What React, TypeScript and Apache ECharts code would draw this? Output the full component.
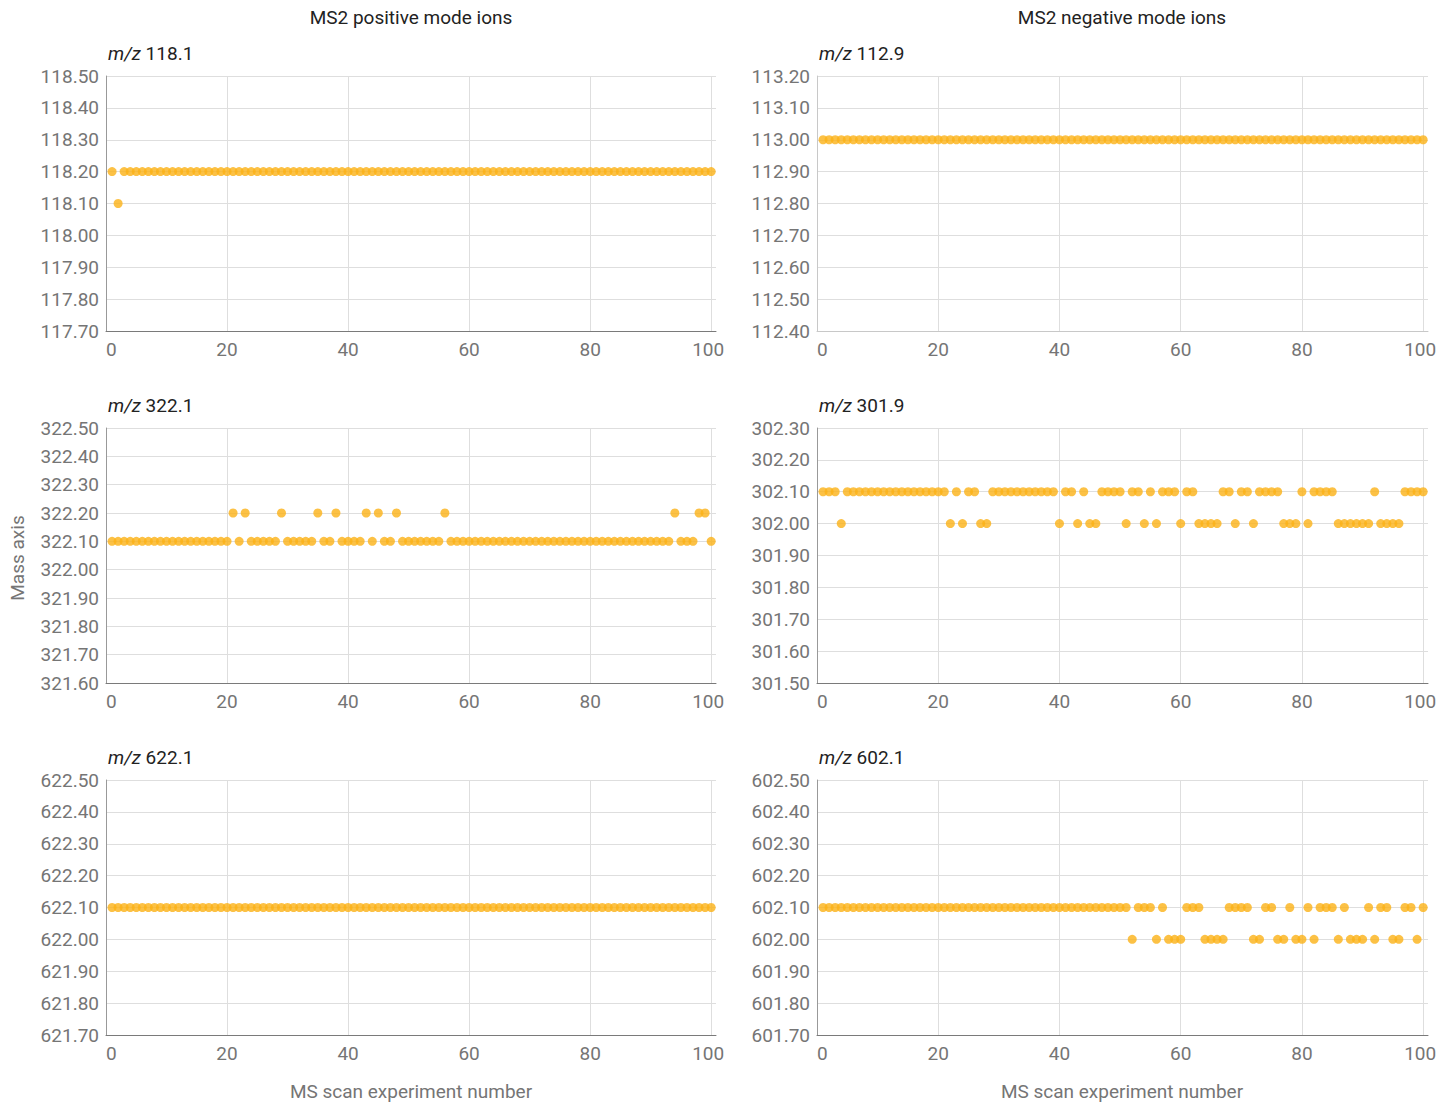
import { useEffect, useRef } from "react";
import * as echarts from "echarts";

// Measured m/z per scan (scans 1..100)
const posIon118 = [
  118.2, 118.1, 118.2, 118.2, 118.2, 118.2, 118.2, 118.2, 118.2, 118.2,
  118.2, 118.2, 118.2, 118.2, 118.2, 118.2, 118.2, 118.2, 118.2, 118.2,
  118.2, 118.2, 118.2, 118.2, 118.2, 118.2, 118.2, 118.2, 118.2, 118.2,
  118.2, 118.2, 118.2, 118.2, 118.2, 118.2, 118.2, 118.2, 118.2, 118.2,
  118.2, 118.2, 118.2, 118.2, 118.2, 118.2, 118.2, 118.2, 118.2, 118.2,
  118.2, 118.2, 118.2, 118.2, 118.2, 118.2, 118.2, 118.2, 118.2, 118.2,
  118.2, 118.2, 118.2, 118.2, 118.2, 118.2, 118.2, 118.2, 118.2, 118.2,
  118.2, 118.2, 118.2, 118.2, 118.2, 118.2, 118.2, 118.2, 118.2, 118.2,
  118.2, 118.2, 118.2, 118.2, 118.2, 118.2, 118.2, 118.2, 118.2, 118.2,
  118.2, 118.2, 118.2, 118.2, 118.2, 118.2, 118.2, 118.2, 118.2, 118.2,
];

const negIon113 = [
  113.0, 113.0, 113.0, 113.0, 113.0, 113.0, 113.0, 113.0, 113.0, 113.0,
  113.0, 113.0, 113.0, 113.0, 113.0, 113.0, 113.0, 113.0, 113.0, 113.0,
  113.0, 113.0, 113.0, 113.0, 113.0, 113.0, 113.0, 113.0, 113.0, 113.0,
  113.0, 113.0, 113.0, 113.0, 113.0, 113.0, 113.0, 113.0, 113.0, 113.0,
  113.0, 113.0, 113.0, 113.0, 113.0, 113.0, 113.0, 113.0, 113.0, 113.0,
  113.0, 113.0, 113.0, 113.0, 113.0, 113.0, 113.0, 113.0, 113.0, 113.0,
  113.0, 113.0, 113.0, 113.0, 113.0, 113.0, 113.0, 113.0, 113.0, 113.0,
  113.0, 113.0, 113.0, 113.0, 113.0, 113.0, 113.0, 113.0, 113.0, 113.0,
  113.0, 113.0, 113.0, 113.0, 113.0, 113.0, 113.0, 113.0, 113.0, 113.0,
  113.0, 113.0, 113.0, 113.0, 113.0, 113.0, 113.0, 113.0, 113.0, 113.0,
];

const posIon322 = [
  322.1, 322.1, 322.1, 322.1, 322.1, 322.1, 322.1, 322.1, 322.1, 322.1,
  322.1, 322.1, 322.1, 322.1, 322.1, 322.1, 322.1, 322.1, 322.1, 322.1,
  322.2, 322.1, 322.2, 322.1, 322.1, 322.1, 322.1, 322.1, 322.2, 322.1,
  322.1, 322.1, 322.1, 322.1, 322.2, 322.1, 322.1, 322.2, 322.1, 322.1,
  322.1, 322.1, 322.2, 322.1, 322.2, 322.1, 322.1, 322.2, 322.1, 322.1,
  322.1, 322.1, 322.1, 322.1, 322.1, 322.2, 322.1, 322.1, 322.1, 322.1,
  322.1, 322.1, 322.1, 322.1, 322.1, 322.1, 322.1, 322.1, 322.1, 322.1,
  322.1, 322.1, 322.1, 322.1, 322.1, 322.1, 322.1, 322.1, 322.1, 322.1,
  322.1, 322.1, 322.1, 322.1, 322.1, 322.1, 322.1, 322.1, 322.1, 322.1,
  322.1, 322.1, 322.1, 322.2, 322.1, 322.1, 322.1, 322.2, 322.2, 322.1,
];

const negIon302 = [
  302.1, 302.1, 302.1, 302.0, 302.1, 302.1, 302.1, 302.1, 302.1, 302.1,
  302.1, 302.1, 302.1, 302.1, 302.1, 302.1, 302.1, 302.1, 302.1, 302.1,
  302.1, 302.0, 302.1, 302.0, 302.1, 302.1, 302.0, 302.0, 302.1, 302.1,
  302.1, 302.1, 302.1, 302.1, 302.1, 302.1, 302.1, 302.1, 302.1, 302.0,
  302.1, 302.1, 302.0, 302.1, 302.0, 302.0, 302.1, 302.1, 302.1, 302.1,
  302.0, 302.1, 302.1, 302.0, 302.1, 302.0, 302.1, 302.1, 302.1, 302.0,
  302.1, 302.1, 302.0, 302.0, 302.0, 302.0, 302.1, 302.1, 302.0, 302.1,
  302.1, 302.0, 302.1, 302.1, 302.1, 302.1, 302.0, 302.0, 302.0, 302.1,
  302.0, 302.1, 302.1, 302.1, 302.1, 302.0, 302.0, 302.0, 302.0, 302.0,
  302.0, 302.1, 302.0, 302.0, 302.0, 302.0, 302.1, 302.1, 302.1, 302.1,
];

const posIon622 = [
  622.1, 622.1, 622.1, 622.1, 622.1, 622.1, 622.1, 622.1, 622.1, 622.1,
  622.1, 622.1, 622.1, 622.1, 622.1, 622.1, 622.1, 622.1, 622.1, 622.1,
  622.1, 622.1, 622.1, 622.1, 622.1, 622.1, 622.1, 622.1, 622.1, 622.1,
  622.1, 622.1, 622.1, 622.1, 622.1, 622.1, 622.1, 622.1, 622.1, 622.1,
  622.1, 622.1, 622.1, 622.1, 622.1, 622.1, 622.1, 622.1, 622.1, 622.1,
  622.1, 622.1, 622.1, 622.1, 622.1, 622.1, 622.1, 622.1, 622.1, 622.1,
  622.1, 622.1, 622.1, 622.1, 622.1, 622.1, 622.1, 622.1, 622.1, 622.1,
  622.1, 622.1, 622.1, 622.1, 622.1, 622.1, 622.1, 622.1, 622.1, 622.1,
  622.1, 622.1, 622.1, 622.1, 622.1, 622.1, 622.1, 622.1, 622.1, 622.1,
  622.1, 622.1, 622.1, 622.1, 622.1, 622.1, 622.1, 622.1, 622.1, 622.1,
];

const negIon602 = [
  602.1, 602.1, 602.1, 602.1, 602.1, 602.1, 602.1, 602.1, 602.1, 602.1,
  602.1, 602.1, 602.1, 602.1, 602.1, 602.1, 602.1, 602.1, 602.1, 602.1,
  602.1, 602.1, 602.1, 602.1, 602.1, 602.1, 602.1, 602.1, 602.1, 602.1,
  602.1, 602.1, 602.1, 602.1, 602.1, 602.1, 602.1, 602.1, 602.1, 602.1,
  602.1, 602.1, 602.1, 602.1, 602.1, 602.1, 602.1, 602.1, 602.1, 602.1,
  602.1, 602.0, 602.1, 602.1, 602.1, 602.0, 602.1, 602.0, 602.0, 602.0,
  602.1, 602.1, 602.1, 602.0, 602.0, 602.0, 602.0, 602.1, 602.1, 602.1,
  602.1, 602.0, 602.0, 602.1, 602.1, 602.0, 602.0, 602.1, 602.0, 602.0,
  602.1, 602.0, 602.1, 602.1, 602.1, 602.0, 602.1, 602.0, 602.0, 602.0,
  602.1, 602.0, 602.1, 602.1, 602.0, 602.0, 602.1, 602.1, 602.0, 602.1,
];

// Axis ranges per panel
const yRanges = [
  [117.7, 118.5],
  [112.4, 113.2],
  [321.6, 322.5],
  [301.5, 302.3],
  [621.7, 622.5],
  [601.7, 602.5],
];

const panelLabels = ["118.1", "112.9", "322.1", "301.9", "622.1", "602.1"];
const panelValues = [posIon118, negIon113, posIon322, negIon302, posIon622, negIon602];

const columnTitles = ["MS2 positive mode ions", "MS2 negative mode ions"];
const xAxisTitle = "MS scan experiment number";
const yAxisTitle = "Mass axis";

const FONT = "Roboto, 'Noto Sans', sans-serif";
const FS = 19;
const DOT = "#FBB117";
const LABEL_GRAY = "#757575";

const colLeft = [106, 817];
const colWidth = [610, 611];
const rowTop = [76, 428, 780];
const rowHeight = 255;

export default function App() {
  const ref = useRef<HTMLDivElement>(null);

  useEffect(() => {
    if (!ref.current) return;
    const chart = echarts.init(ref.current, undefined, { renderer: "svg" });

    const grids: any[] = [];
    const xAxes: any[] = [];
    const yAxes: any[] = [];
    const series: any[] = [];
    const graphics: any[] = [];

    panelValues.forEach((values, i) => {
      const col = i % 2;
      const row = Math.floor(i / 2);
      const lightAxes = i === 1;
      grids.push({
        left: colLeft[col],
        top: rowTop[row],
        width: colWidth[col],
        height: rowHeight,
        containLabel: false,
      });
      xAxes.push({
        type: "value",
        gridIndex: i,
        min: 0,
        max: 100.8,
        interval: 20,
        axisLine: {
          show: true,
          onZero: false,
          lineStyle: { color: lightAxes ? "#c8c8c8" : "#7a7a7a", width: 1 },
        },
        axisTick: { show: false },
        axisLabel: {
          color: LABEL_GRAY,
          fontFamily: FONT,
          fontSize: FS,
          margin: 9,
          alignMinLabel: "left",
          showMaxLabel: false,
          formatter: (v: number) => {
            const r = Math.round(v);
            if (Math.abs(v - Math.round(v / 20) * 20) > 1e-6) return "";
            return r === 100 ? "{e|100}" : String(r);
          },
          rich: {
            e: {
              color: LABEL_GRAY,
              fontFamily: FONT,
              fontSize: FS,
              padding: [0, 6, 0, 0],
            },
          },
        },
        splitLine: {
          show: true,
          showMinLine: false,
          showMaxLine: false,
          lineStyle: { color: "#dedede", width: 1 },
        },
      });
      yAxes.push({
        type: "value",
        gridIndex: i,
        min: yRanges[i][0],
        max: yRanges[i][1],
        interval: 0.1,
        axisLine: {
          show: true,
          onZero: false,
          lineStyle: { color: lightAxes ? "#c8c8c8" : "#999999", width: 1 },
        },
        axisTick: { show: false },
        axisLabel: {
          color: LABEL_GRAY,
          fontFamily: FONT,
          fontSize: FS,
          margin: 7,
          formatter: (v: number) => v.toFixed(2),
        },
        splitLine: { show: true, lineStyle: { color: "#dedede", width: 1 } },
      });
      series.push({
        type: "scatter",
        xAxisIndex: i,
        yAxisIndex: i,
        symbol: "circle",
        symbolSize: 9,
        itemStyle: { color: DOT },
        data: values.map((v, k) => [k + 1, v]),
      });
      graphics.push({
        type: "text",
        x: colLeft[col] + 2,
        y: rowTop[row] - 23,
        style: {
          text: `{i|m/z} ${panelLabels[i]}`,
          fontFamily: FONT,
          fontSize: FS,
          fill: "#222222",
          textVerticalAlign: "middle",
          rich: {
            i: { fontStyle: "italic", fontFamily: FONT, fontSize: FS, fill: "#222222" },
          },
        },
      });
    });

    columnTitles.forEach((t, col) => {
      const cx = colLeft[col] + 305;
      graphics.push({
        type: "text",
        x: cx,
        y: 17,
        style: {
          text: t,
          fontFamily: FONT,
          fontSize: FS,
          fill: "#222222",
          textAlign: "center",
          textVerticalAlign: "middle",
        },
      });
      graphics.push({
        type: "text",
        x: cx,
        y: 1091,
        style: {
          text: xAxisTitle,
          fontFamily: FONT,
          fontSize: FS,
          fill: LABEL_GRAY,
          textAlign: "center",
          textVerticalAlign: "middle",
        },
      });
    });

    graphics.push({
      type: "text",
      x: 17,
      y: 558,
      rotation: Math.PI / 2,
      style: {
        text: yAxisTitle,
        fontFamily: FONT,
        fontSize: FS,
        fill: LABEL_GRAY,
        textAlign: "center",
        textVerticalAlign: "middle",
      },
    });

    chart.setOption({
      animation: false,
      backgroundColor: "#ffffff",
      textStyle: { fontFamily: FONT },
      grid: grids,
      xAxis: xAxes,
      yAxis: yAxes,
      series,
      graphic: graphics,
    });

    return () => chart.dispose();
  }, []);

  return (
    <div
      ref={ref}
      style={{ position: "absolute", left: 0, top: 0, width: 1456, height: 1107 }}
    />
  );
}
